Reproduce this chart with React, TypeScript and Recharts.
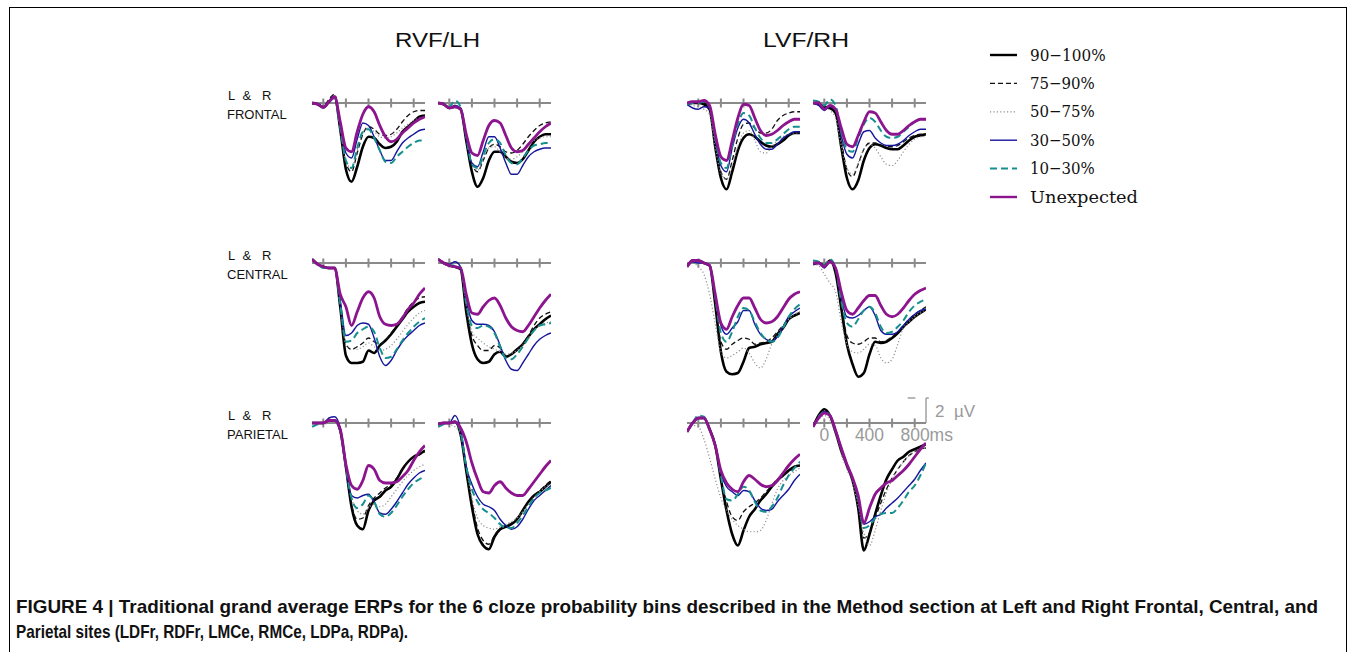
import React from "react";
import { LineChart, Line, XAxis, YAxis, ReferenceLine } from "recharts";

// sample times (ms) shared by every waveform
const TIMES = [-100, -50, 0, 50, 100, 150, 200, 250, 300, 350, 400, 450, 500, 550, 600, 650, 700, 750, 800, 850, 900];
const TICK_MS = [0, 200, 400, 600, 800];
const SCALE_MS = [0, 400, 800];
const SCALE_TEXT = ["0", "400", "800ms"];

const BIN_LABELS = ["90\u2212100%", "75\u221290%", "50\u221275%", "30\u221250%", "10\u221230%", "Unexpected"];
const FIELD_TITLES = ["RVF/LH", "LVF/RH"];
const SITE_NAMES = ["FRONTAL", "CENTRAL", "PARIETAL"];

// amplitudes in microvolts (positive plotted downward), series in BIN_LABELS order
const RVF_LDFR = [
  [0, 0.1, 0.35, -0.1, -0.5, 2.1, 5.3, 6.3, 5.1, 3.5, 2.7, 2.8, 3.3, 3.6, 3.5, 3.1, 2.3, 1.9, 1.5, 1.1, 1.0],
  [0.1, 0, 0.3, -0.3, -0.7, 2.0, 4.8, 5.5, 4.0, 2.5, 1.9, 2.1, 2.5, 2.6, 2.5, 2.1, 1.5, 1.0, 0.7, 0.6, 0.6],
  [0, 0.1, 0.35, -0.1, -0.5, 2.0, 4.7, 5.2, 3.8, 2.4, 2.0, 2.3, 2.7, 2.8, 2.7, 2.4, 2.0, 1.7, 1.4, 1.2, 1.2],
  [0, 0.1, 0.35, -0.1, -0.4, 1.8, 4.0, 4.4, 2.9, 1.6, 1.8, 2.7, 3.8, 4.6, 4.6, 3.9, 3.2, 2.8, 2.5, 2.2, 2.1],
  [0, 0.1, 0.35, -0.1, -0.4, 2.0, 4.6, 5.2, 3.6, 2.3, 2.1, 2.8, 3.8, 4.7, 4.8, 4.3, 3.9, 3.5, 3.2, 3.0, 3.0],
  [0, 0.1, 0.35, -0.1, -0.5, 1.5, 3.6, 3.9, 2.3, 0.9, 0.3, 0.7, 1.8, 2.7, 3.1, 2.9, 2.4, 2.0, 1.6, 1.3, 1.1],
];
const RVF_RDFR = [
  [0, 0.1, 0.4, 0.3, 0.5, 3.0, 5.5, 6.7, 6.0, 4.6, 3.9, 3.9, 4.3, 4.7, 4.8, 4.5, 3.8, 3.1, 2.7, 2.5, 2.5],
  [0, 0.1, 0.4, 0.2, 0.4, 2.6, 4.9, 5.5, 4.6, 3.6, 3.3, 3.5, 3.9, 4.0, 3.8, 3.3, 2.7, 2.2, 1.8, 1.6, 1.5],
  [0, 0.1, 0.4, 0.2, 0.4, 2.6, 4.8, 5.4, 4.5, 3.6, 3.5, 3.9, 4.4, 4.5, 4.3, 3.9, 3.4, 3.0, 2.8, 2.7, 2.7],
  [0, 0.1, 0.4, 0.2, 0.4, 2.8, 4.8, 5.1, 3.9, 2.7, 2.7, 3.6, 4.8, 5.7, 5.7, 5.0, 4.3, 3.9, 3.7, 3.6, 3.6],
  [0, 0.1, 0.3, -0.2, 0.3, 2.7, 4.9, 5.2, 4.2, 3.2, 2.9, 3.2, 4.2, 4.8, 4.9, 4.4, 3.8, 3.4, 3.3, 3.2, 3.2],
  [0, 0.1, 0.4, 0.3, 0.5, 2.5, 4.0, 4.2, 3.0, 1.8, 1.4, 1.6, 2.6, 3.6, 3.9, 3.8, 3.3, 2.8, 2.3, 1.9, 1.6],
];
const LVF_LDFR = [
  [0.1, 0, 0, 0.1, 0.5, 3.5, 6.0, 6.9, 5.5, 3.8, 2.8, 2.5, 2.7, 3.1, 3.4, 3.5, 3.3, 3.0, 2.6, 2.4, 2.4],
  [0.1, 0, 0, 0, 0.4, 3.0, 5.5, 6.1, 4.6, 2.8, 1.7, 1.6, 2.0, 2.4, 2.4, 2.1, 1.4, 1.0, 0.8, 0.7, 0.7],
  [0.1, 0.2, 0.3, 0.5, 0.9, 3.5, 5.6, 6.1, 5.0, 3.5, 2.4, 2.2, 3.0, 3.9, 4.0, 3.5, 3.0, 2.7, 2.5, 2.4, 2.4],
  [0.1, 0.4, 0.5, 0.3, 0.4, 2.9, 5.0, 5.5, 3.6, 2.0, 1.3, 1.6, 2.5, 3.3, 3.7, 3.7, 3.3, 2.8, 2.5, 2.3, 2.3],
  [0.1, 0, 0, -0.1, 0.3, 2.8, 4.8, 5.2, 3.4, 1.7, 0.8, 1.0, 2.0, 2.8, 3.2, 3.2, 2.9, 2.5, 2.1, 1.9, 1.9],
  [0, -0.1, -0.1, -0.2, 0.2, 2.5, 4.3, 4.6, 3.0, 1.2, 0.1, 0.2, 1.2, 2.2, 2.6, 2.5, 2.2, 1.8, 1.5, 1.3, 1.3],
];
const LVF_RDFR = [
  [0, 0.1, 0.3, 0.4, 0.8, 3.5, 6.0, 6.9, 6.2, 4.6, 3.6, 3.3, 3.4, 3.6, 3.7, 3.7, 3.4, 3.0, 2.7, 2.6, 2.5],
  [0, 0.1, 0.3, 0.3, 0.6, 3.0, 5.3, 5.9, 4.9, 3.7, 3.2, 3.2, 3.4, 3.5, 3.5, 3.4, 3.1, 2.8, 2.6, 2.5, 2.5],
  [0, 0.1, 0.4, 0.6, 1.2, 3.4, 5.2, 5.7, 4.8, 3.7, 3.3, 3.6, 4.3, 4.9, 5.0, 4.6, 3.9, 3.3, 2.9, 2.7, 2.7],
  [0, 0.2, 0.6, 0.3, 0.5, 2.6, 4.1, 4.4, 3.3, 2.3, 2.2, 2.8, 3.2, 3.4, 3.4, 3.3, 3.0, 2.6, 2.3, 2.1, 2.1],
  [-0.2, -0.1, 0.2, -0.3, 0.2, 2.3, 3.7, 3.9, 2.8, 1.7, 1.2, 1.5, 2.2, 2.7, 2.8, 2.7, 2.3, 1.9, 1.5, 1.3, 1.3],
  [0, 0, 0.5, 0.2, 0.5, 2.0, 3.3, 3.5, 2.6, 1.5, 0.7, 0.8, 1.5, 2.2, 2.5, 2.5, 2.2, 1.8, 1.5, 1.3, 1.3],
];
const RVF_LMCE = [
  [-0.3, 0.1, 0.3, 0.4, 0.4, 3.5, 7.4, 8.0, 8.0, 7.9, 7.0, 7.2, 6.6, 6.2, 5.7, 5.1, 4.5, 3.9, 3.5, 3.2, 3.1],
  [-0.3, 0.1, 0.3, 0.4, 0.4, 3.3, 6.5, 6.9, 6.7, 6.4, 6.0, 6.3, 6.5, 6.2, 5.6, 5.0, 4.3, 3.6, 3.1, 2.8, 2.7],
  [-0.3, 0.1, 0.3, 0.4, 0.4, 3.3, 6.6, 6.9, 6.9, 6.7, 6.4, 6.7, 7.0, 6.9, 6.6, 6.1, 5.5, 4.9, 4.4, 4.0, 3.8],
  [-0.3, 0.1, 0.3, 0.4, 0.4, 3.0, 5.8, 5.6, 5.0, 4.8, 4.9, 6.0, 7.5, 8.2, 7.8, 7.0, 6.3, 5.8, 5.4, 5.0, 4.8],
  [-0.3, 0.1, 0.4, 0.4, 0.4, 3.3, 6.3, 6.2, 5.6, 5.3, 5.1, 5.5, 6.8, 7.6, 7.5, 6.9, 6.2, 5.6, 5.1, 4.7, 4.4],
  [-0.3, 0.1, 0.3, 0.4, 0.4, 2.5, 3.5, 5.0, 3.9, 2.8, 2.3, 2.8, 4.3, 4.9, 5.0, 4.9, 4.4, 3.7, 3.2, 2.5, 2.0],
];
const RVF_RMCE = [
  [-0.3, 0, 0.2, 0.3, 0.5, 3.9, 6.5, 7.7, 8.0, 7.9, 7.3, 7.1, 7.5, 7.3, 6.9, 6.5, 5.9, 5.3, 4.9, 4.5, 4.2],
  [-0.3, 0, 0.2, 0.3, 0.5, 3.6, 5.8, 6.6, 7.0, 7.0, 6.6, 6.8, 7.4, 7.3, 7.0, 6.5, 5.8, 5.0, 4.4, 4.1, 3.9],
  [-0.3, 0, 0.2, 0.3, 0.5, 3.4, 5.5, 6.0, 6.4, 6.7, 6.9, 7.1, 7.3, 7.2, 7.0, 6.6, 6.0, 5.4, 5.0, 4.8, 4.7],
  [-0.3, 0, 0.1, -0.1, 0.3, 3.0, 4.6, 4.9, 4.9, 5.0, 5.5, 6.6, 7.8, 8.5, 8.6, 8.0, 7.3, 6.6, 6.1, 5.8, 5.6],
  [-0.3, 0, 0.2, 0.2, 0.4, 3.2, 5.0, 5.2, 5.0, 5.1, 5.6, 6.7, 7.6, 7.7, 7.3, 6.7, 6.0, 5.4, 5.0, 4.9, 4.8],
  [-0.3, 0, 0.2, 0.3, 0.4, 2.5, 4.0, 4.1, 3.5, 3.0, 2.8, 3.4, 4.4, 5.1, 5.4, 5.5, 5.0, 4.3, 3.6, 3.0, 2.5],
];
const LVF_LMCE = [
  [0.3, -0.2, -0.2, 0, 0.2, 3.3, 7.1, 8.7, 8.9, 8.8, 7.9, 6.8, 6.7, 6.5, 6.4, 6.3, 5.7, 5.2, 4.5, 4.2, 4.0],
  [0.3, -0.2, -0.2, 0, 0.2, 3.0, 6.3, 6.9, 6.5, 6.2, 6.0, 6.1, 6.5, 6.4, 6.3, 6.0, 5.5, 5.0, 4.5, 4.2, 4.0],
  [0.3, 0, 0.3, 0.9, 2.5, 4.9, 7.1, 7.6, 7.4, 7.1, 6.8, 7.2, 8.0, 8.4, 7.7, 6.5, 5.8, 5.0, 4.5, 4.1, 3.9],
  [0.3, -0.1, 0, 0, 0.2, 2.6, 5.0, 5.7, 5.2, 4.7, 3.8, 3.8, 4.9, 5.7, 6.1, 6.3, 5.9, 5.1, 4.3, 3.9, 3.6],
  [0.3, -0.2, -0.2, 0, 0.2, 2.8, 5.6, 6.3, 5.5, 4.3, 3.6, 3.8, 4.7, 5.6, 6.1, 6.3, 6.0, 5.2, 4.3, 3.7, 3.3],
  [0.3, -0.2, -0.2, 0, 0.2, 2.5, 4.8, 5.3, 4.3, 3.4, 2.8, 2.8, 3.6, 4.5, 4.8, 4.7, 4.3, 3.6, 2.9, 2.5, 2.3],
];
const LVF_RMCE = [
  [0.1, 0, 0.2, -0.2, 0.8, 3.6, 6.5, 8.1, 9.1, 8.8, 7.3, 6.3, 6.4, 6.3, 6.0, 5.6, 5.1, 4.7, 4.3, 4.0, 3.7],
  [0.1, 0, 0.2, -0.2, 0.8, 3.4, 5.8, 6.4, 6.5, 6.3, 6.0, 6.0, 6.3, 6.2, 5.9, 5.5, 5.0, 4.5, 4.1, 3.8, 3.5],
  [0.1, 0.2, 0.9, 1.6, 2.3, 4.7, 6.5, 7.1, 7.2, 6.9, 6.5, 6.6, 7.6, 8.0, 7.7, 6.5, 5.2, 4.7, 4.3, 4.0, 3.7],
  [0.1, 0, 0.4, -0.1, 0.5, 2.8, 4.3, 4.4, 4.2, 3.8, 3.5, 4.2, 5.4, 5.7, 5.7, 5.5, 5.0, 4.5, 4.1, 3.8, 3.7],
  [-0.2, -0.1, 0.2, -0.3, 0.4, 3.0, 4.8, 5.1, 4.5, 3.8, 3.5, 4.0, 5.1, 5.6, 5.5, 5.1, 4.6, 3.9, 3.4, 3.1, 2.9],
  [0, 0, 0.3, -0.1, 0.4, 2.3, 3.8, 4.1, 3.6, 3.0, 2.6, 2.6, 3.4, 4.1, 4.3, 4.1, 3.6, 3.0, 2.5, 2.2, 2.0],
];
const RVF_LDPA = [
  [0, 0, 0, -0.2, -0.2, 0.6, 3.5, 6.7, 8.2, 8.5, 7.0, 6.2, 5.9, 5.4, 5.1, 4.5, 3.7, 3.1, 2.7, 2.5, 2.2],
  [0, 0, 0, -0.2, -0.2, 0.6, 3.5, 6.5, 7.7, 7.6, 6.6, 6.0, 5.6, 5.2, 4.9, 4.4, 3.7, 3.1, 2.7, 2.5, 2.3],
  [0, 0, 0.1, 0, 0, 0.6, 3.3, 6.0, 7.0, 7.3, 6.8, 6.5, 6.7, 6.5, 5.9, 5.3, 4.7, 4.2, 3.8, 3.5, 3.3],
  [0, 0, 0, -0.4, -0.5, 0.4, 3.6, 5.8, 6.0, 5.8, 5.7, 6.3, 7.2, 7.3, 6.9, 6.3, 5.6, 4.9, 4.4, 4.0, 3.8],
  [0.3, 0.1, 0, -0.2, -0.2, 0.6, 3.6, 6.0, 6.8, 6.5, 5.8, 6.3, 7.3, 7.5, 7.2, 6.6, 5.9, 5.3, 4.8, 4.5, 4.3],
  [0, 0, 0, -0.2, -0.2, 0.5, 3.3, 5.0, 5.3, 4.6, 3.4, 3.7, 4.6, 4.8, 4.8, 4.7, 4.3, 3.8, 3.0, 2.3, 1.8],
];
const RVF_RDPA = [
  [0.1, 0, 0, -0.1, 0.9, 3.8, 6.7, 8.9, 9.8, 10.1, 9.1, 8.5, 8.3, 8.1, 7.7, 7.0, 6.3, 5.8, 5.5, 5.1, 4.7],
  [0.1, 0, 0, -0.1, 0.9, 3.6, 6.3, 8.4, 9.4, 9.7, 9.0, 8.4, 8.2, 8.0, 7.6, 7.0, 6.4, 5.8, 5.4, 5.0, 4.6],
  [0.1, 0, 0.1, 0.3, 1.0, 3.5, 6.0, 7.6, 8.2, 8.4, 8.5, 8.3, 8.1, 7.9, 7.6, 7.1, 6.5, 6.0, 5.5, 5.1, 4.9],
  [0.1, 0, 0, -0.6, 0.5, 3.5, 4.9, 5.9, 6.5, 6.7, 7.0, 7.7, 8.2, 8.5, 8.3, 7.7, 6.9, 6.2, 5.8, 5.4, 5.0],
  [0.3, 0.1, 0, -0.1, 0.7, 3.5, 5.3, 6.3, 6.9, 7.2, 7.6, 8.1, 8.4, 8.4, 8.0, 7.4, 6.7, 6.0, 5.6, 5.4, 5.2],
  [0.1, 0, 0, -0.1, 0.4, 1.5, 3.2, 4.5, 5.5, 5.6, 5.0, 4.7, 5.2, 5.6, 5.8, 5.8, 5.3, 4.7, 4.1, 3.5, 3.0],
];
const LVF_LDPA = [
  [0.7, 0, -0.4, -0.4, 0.5, 1.8, 4.5, 7.0, 8.9, 9.8, 8.6, 7.5, 6.9, 6.2, 5.7, 5.1, 4.6, 4.2, 3.8, 3.5, 3.4],
  [0.7, 0, -0.4, -0.4, 0.5, 1.8, 4.4, 6.3, 7.5, 7.8, 7.1, 6.7, 6.4, 6.0, 5.5, 5.0, 4.5, 4.2, 3.9, 3.6, 3.4],
  [0.7, 0.2, 0.3, 1.3, 2.8, 4.5, 6.0, 7.0, 7.7, 8.2, 8.5, 8.7, 8.7, 8.6, 7.8, 6.5, 5.3, 4.6, 4.2, 3.9, 3.6],
  [0.7, 0, -0.4, -0.4, 0.5, 1.8, 4.0, 5.1, 5.5, 5.8, 5.4, 5.5, 6.2, 6.8, 7.0, 6.9, 6.3, 5.8, 5.3, 4.6, 4.1],
  [0.7, 0, -0.6, -0.5, 0.5, 1.8, 4.2, 6.1, 6.2, 5.7, 5.1, 5.4, 6.3, 7.0, 7.1, 6.7, 6.0, 5.0, 4.2, 3.6, 3.1],
  [0.7, 0, -0.4, -0.4, 0.5, 1.8, 3.8, 4.8, 5.3, 5.5, 4.7, 4.2, 4.5, 4.9, 5.1, 5.0, 4.6, 4.0, 3.4, 2.9, 2.5],
];
const LVF_RDPA = [
  [0.3, -0.6, -1.1, -0.6, 0.7, 2.2, 3.4, 4.6, 6.8, 10.2, 8.9, 7.3, 5.8, 4.5, 3.7, 3.0, 2.7, 2.3, 2.1, 1.9, 1.7],
  [0.3, -0.5, -0.9, -0.5, 0.7, 2.2, 3.4, 4.5, 6.5, 9.2, 8.8, 7.6, 6.4, 5.3, 4.4, 3.7, 3.1, 2.6, 2.3, 2.1, 2.0],
  [0.3, -0.3, -0.6, -0.2, 1.0, 2.5, 3.7, 4.8, 6.6, 8.8, 9.8, 8.6, 7.0, 5.6, 4.5, 3.7, 3.1, 2.6, 2.3, 2.1, 2.0],
  [0.3, -0.5, -0.9, -0.6, 0.6, 2.0, 3.3, 4.4, 6.0, 8.1, 7.9, 7.5, 7.3, 6.8, 6.4, 6.0, 5.5, 5.0, 4.5, 3.8, 3.2],
  [0.3, -0.5, -0.9, -0.6, 0.6, 2.0, 3.3, 4.4, 6.1, 8.4, 8.2, 7.6, 7.3, 7.2, 7.2, 6.8, 6.2, 5.5, 5.0, 4.2, 3.2],
  [0.3, -0.4, -0.8, -0.6, 0.6, 2.0, 3.3, 4.4, 5.8, 8.0, 6.8, 5.7, 5.2, 4.8, 4.6, 4.2, 3.8, 3.3, 2.7, 2.1, 1.6],
];

// grid of panels: rows = sites, columns = RVF L/R electrode, LVF L/R electrode
const PANEL_GRID = [
  [RVF_LDFR, RVF_RDFR, LVF_LDFR, LVF_RDFR],
  [RVF_LMCE, RVF_RMCE, LVF_LMCE, LVF_RMCE],
  [RVF_LDPA, RVF_RDPA, LVF_LDPA, LVF_RDPA],
];

// layout
const COL_LEFT = [312, 437.7, 687, 812.7];
const ROW_AXIS = [103.3, 263.3, 422.7];
const PLOT_W = 113;
const PLOT_H = 180;
const Y_DOMAIN = [-3.2, 11.2];
const AXIS_OFFSET = 40; // px from chart top to 0 uV

const SERIES_COLORS = ["#000000", "#111111", "#8e8e8e", "#16169c", "#16908e", "#8d148f"];
const SERIES_WIDTHS = [2.6, 1.3, 1.2, 1.4, 2.0, 2.8];
const SERIES_DASHES = [undefined, "5 3", "1.2 2.2", undefined, "7 4", undefined];

const AXIS_GRAY = "#8a8a8a";
const SANS = "'Liberation Sans', Arial, Helvetica, sans-serif";

function TickText(props: any) {
  const vb = props.viewBox || {};
  const x = (vb.x ?? 0) + (props.dx || 0);
  const y = (vb.y ?? 0) + (vb.height ?? 0);
  return (
    <text x={x} y={y + 13} textAnchor="middle" fill="#9a9a9a" fontSize={17.5} fontFamily={SANS}>
      {props.text}
    </text>
  );
}

function SideText(props: any) {
  const vb = props.viewBox || {};
  const x = (vb.x ?? 0) + (vb.width ?? 0) + 9;
  const y = (vb.y ?? 0) + (vb.height ?? 0) / 2 + 6;
  return (
    <text x={x} y={y} fill="#9a9a9a" fontSize={17} fontFamily={SANS}>
      {props.text}
    </text>
  );
}

function Panel({ series, left, axisY, showScale }: { series: number[][]; left: number; axisY: number; showScale: boolean }) {
  const data = TIMES.map((t, i) => {
    const row: any = { t };
    series.forEach((s, k) => {
      row["s" + k] = s[i];
    });
    return row;
  });
  const extra = showScale ? 70 : 4;
  return (
    <div style={{ position: "absolute", left, top: axisY - AXIS_OFFSET }}>
      <LineChart width={PLOT_W + extra} height={PLOT_H} data={data} margin={{ top: 0, right: extra, bottom: 0, left: 0 }}>
        <XAxis dataKey="t" type="number" domain={[-100, 900]} allowDataOverflow hide />
        <YAxis type="number" domain={Y_DOMAIN} allowDataOverflow reversed hide />
        <ReferenceLine y={0} stroke={AXIS_GRAY} strokeWidth={2} />
        {TICK_MS.map((ms) => (
          <ReferenceLine
            key={ms}
            segment={[{ x: ms, y: -0.36 }, { x: ms, y: 0.36 }]}
            stroke={AXIS_GRAY}
            strokeWidth={2}
          />
        ))}
        {showScale &&
          SCALE_MS.map((ms, i) => (
            <ReferenceLine
              key={"lab" + ms}
              segment={[{ x: ms, y: 0 }, { x: ms, y: 0.36 }]}
              stroke="none"
              ifOverflow="visible"
              label={<TickText text={SCALE_TEXT[i]} dx={i === 2 ? 12 : 0} />}
            />
          ))}
        {showScale && (
          <ReferenceLine
            segment={[{ x: 900, y: 0 }, { x: 900, y: -2 }]}
            stroke="#9a9a9a"
            strokeWidth={1.4}
            ifOverflow="visible"
            label={<SideText text={"2\u00a0\u00a0\u00b5V"} />}
          />
        )}
        {showScale && (
          <ReferenceLine
            segment={[{ x: 900, y: -2 }, { x: 925, y: -2 }]}
            stroke="#9a9a9a"
            strokeWidth={1.4}
            ifOverflow="visible"
          />
        )}
        {showScale && (
          <ReferenceLine
            segment={[{ x: 738, y: -2 }, { x: 806, y: -2 }]}
            stroke="#9a9a9a"
            strokeWidth={1.4}
            ifOverflow="visible"
          />
        )}
        {series.map((_, k) => (
          <Line
            key={k}
            dataKey={"s" + k}
            type="monotone"
            dot={false}
            isAnimationActive={false}
            stroke={SERIES_COLORS[k]}
            strokeWidth={SERIES_WIDTHS[k]}
            strokeDasharray={SERIES_DASHES[k]}
          />
        ))}
      </LineChart>
    </div>
  );
}

const CAPTION_FONT = "'Liberation Sans Narrow', 'Liberation Sans', Arial, sans-serif";

export default function App() {
  return (
    <div style={{ position: "absolute", left: 0, top: 0, width: 1355, height: 652, overflow: "hidden", background: "#fff" }}>
      <div
        style={{
          position: "absolute",
          left: 9,
          top: 7,
          width: 1338,
          height: 700,
          border: "1.5px solid #000",
          boxSizing: "border-box",
        }}
      />
      <svg width={1355} height={652} style={{ position: "absolute", left: 0, top: 0 }}>
        <text x={395} y={47} fontSize={21} fontFamily={SANS} fill="#111" textLength={85} lengthAdjust="spacingAndGlyphs">
          {FIELD_TITLES[0]}
        </text>
        <text x={763} y={47} fontSize={21} fontFamily={SANS} fill="#111" textLength={86} lengthAdjust="spacingAndGlyphs">
          {FIELD_TITLES[1]}
        </text>
        {SITE_NAMES.map((name, r) => (
          <g key={name} fontFamily={SANS} fontSize={13} fill="#111">
            <text x={228} y={99.5 + r * 160}>{"L\u00a0\u00a0&\u00a0\u00a0\u00a0R"}</text>
            <text x={227} y={118.5 + r * 160}>{name}</text>
          </g>
        ))}
        {BIN_LABELS.map((label, i) => {
          const y = 55 + i * 28.4;
          return (
            <g key={label}>
              <line
                x1={990}
                x2={1017}
                y1={y}
                y2={y}
                stroke={SERIES_COLORS[i]}
                strokeWidth={i === 0 || i === 5 ? 2.4 : SERIES_WIDTHS[i]}
                strokeDasharray={SERIES_DASHES[i]}
              />
              <text
                x={1030}
                y={y + 5.5}
                fontSize={16.5}
                fontFamily="'DejaVu Serif', 'Liberation Serif', serif"
                fill="#111"
                textLength={label.length * 10.8}
                lengthAdjust="spacingAndGlyphs"
              >
                {label}
              </text>
            </g>
          );
        })}
        <text
          x={16}
          y={613}
          fontSize={19}
          fontWeight={700}
          fontFamily={CAPTION_FONT}
          fill="#111"
          textLength={1302}
          lengthAdjust="spacingAndGlyphs"
        >
          FIGURE 4 | Traditional grand average ERPs for the 6 cloze probability bins described in the Method section at Left and Right Frontal, Central, and
        </text>
        <text
          x={16}
          y={638}
          fontSize={19}
          fontWeight={700}
          fontFamily={CAPTION_FONT}
          fill="#111"
          textLength={392}
          lengthAdjust="spacingAndGlyphs"
        >
          Parietal sites (LDFr, RDFr, LMCe, RMCe, LDPa, RDPa).
        </text>
      </svg>
      {PANEL_GRID.map((row, r) =>
        row.map((series, c) => (
          <Panel
            key={r + "-" + c}
            series={series}
            left={COL_LEFT[c]}
            axisY={ROW_AXIS[r]}
            showScale={r === 2 && c === 3}
          />
        ))
      )}
    </div>
  );
}
